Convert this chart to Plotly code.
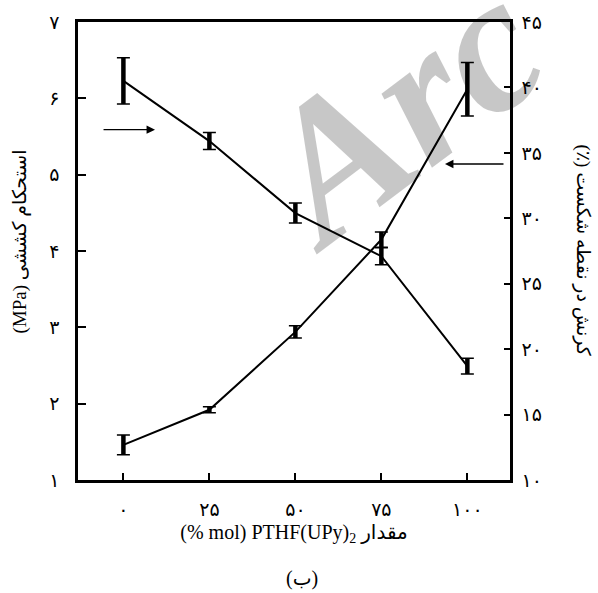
import plotly.graph_objects as go

# ---- data ----
pthf_mol = [0, 25, 50, 75, 100]
tensile_strength = [1.46, 1.92, 2.94, 4.15, 6.12]      # MPa (left axis)
tensile_err = [0.13, 0.04, 0.08, 0.10, 0.35]
strain_break = [40.5, 35.9, 30.4, 27.1, 18.7]          # % (right axis)
strain_err = [1.76, 0.65, 0.76, 0.65, 0.60]

x_tick_vals = [0, 25, 50, 75, 100]
x_tick_labels = ["۰", "۲۵", "۵۰", "۷۵", "۱۰۰"]
y_tick_vals = [1, 2, 3, 4, 5, 6, 7]
y_tick_labels = ["۱", "۲", "۳", "۴", "۵", "۶", "۷"]
y2_tick_vals = [10, 15, 20, 25, 30, 35, 40, 45]
y2_tick_labels = ["۱۰", "۱۵", "۲۰", "۲۵", "۳۰", "۳۵", "۴۰", "۴۵"]

x_title = "(% mol) PTHF(UPy)<sub>2</sub> مقدار"
y_title = "(MPa) استحکام کششی"
y2_title = "(٪) کرنش در نقطه شکست"
caption = "(ب)"

FONT = "Liberation Serif, DejaVu Sans, serif"
DIGIT_FONT = "DejaVu Sans, sans-serif"

fig = go.Figure()

def add_series(x, y, err, axis):
    # line + thick vertical error stems
    fig.add_trace(go.Scatter(
        x=x, y=y, yaxis=axis, mode="lines",
        line=dict(color="black", width=2),
        error_y=dict(type="data", array=err, visible=True,
                     color="black", thickness=4.5, width=0),
        showlegend=False, hoverinfo="skip"))
    # thin caps
    fig.add_trace(go.Scatter(
        x=x, y=y, yaxis=axis, mode="markers",
        marker=dict(color="rgba(0,0,0,0)", size=1),
        error_y=dict(type="data", array=err, visible=True,
                     color="black", thickness=1.5, width=6.5),
        showlegend=False, hoverinfo="skip"))

add_series(pthf_mol, tensile_strength, tensile_err, "y")
add_series(pthf_mol, strain_break, strain_err, "y2")

fig.update_layout(
    width=598, height=593,
    margin=dict(l=78, r=88, t=22, b=113),
    paper_bgcolor="white", plot_bgcolor="white",
    font=dict(family=FONT, color="black", size=16),
    xaxis=dict(
        range=[-13.2, 112.4], showgrid=False, zeroline=False,
        showline=True, linecolor="black", linewidth=2.5, mirror=True,
        ticks="inside", ticklen=7, tickwidth=1.5, tickcolor="black",
        tickvals=x_tick_vals, ticktext=x_tick_labels,
        tickfont=dict(family=DIGIT_FONT, size=19),
        ticklabelstandoff=10,
        title=dict(text=x_title, font=dict(family=FONT, size=20), standoff=7),
    ),
    yaxis=dict(
        range=[1, 7], showgrid=False, zeroline=False,
        showline=True, linecolor="black", linewidth=2.5,
        ticks="inside", ticklen=8, tickwidth=1.5, tickcolor="black",
        tickvals=y_tick_vals, ticktext=y_tick_labels,
        tickfont=dict(family=DIGIT_FONT, size=19),
        ticklabelstandoff=12,
    ),
    yaxis2=dict(
        range=[10, 45], overlaying="y", side="right",
        showgrid=False, zeroline=False,
        showline=True, linecolor="black", linewidth=2.5,
        ticks="inside", ticklen=6, tickwidth=1.5, tickcolor="black",
        tickvals=y2_tick_vals, ticktext=y2_tick_labels,
        tickfont=dict(family=DIGIT_FONT, size=19),
        ticklabelstandoff=5,
    ),
)

annotations = [
    # axis titles
    dict(text=y_title, xref="paper", yref="paper", x=-0.135, y=0.52,
         textangle=-90, showarrow=False, font=dict(family=FONT, size=19),
         xanchor="center", yanchor="middle"),
    dict(text=y2_title, xref="paper", yref="paper", x=1.17, y=0.50,
         textangle=90, showarrow=False, font=dict(family=FONT, size=19),
         xanchor="center", yanchor="middle"),
    # caption
    dict(text=caption, xref="paper", yref="paper", x=0.518, y=-0.215,
         showarrow=False, font=dict(family=FONT, size=20),
         xanchor="center", yanchor="middle"),
    # arrows
    dict(x=9.2, y=5.59, xref="x", yref="y", ax=-53, ay=0, text="",
         showarrow=True, arrowhead=2, arrowsize=1.3, arrowwidth=1.3,
         arrowcolor="black"),
    dict(x=93.5, y=5.14, xref="x", yref="y", ax=60, ay=0, text="",
         showarrow=True, arrowhead=2, arrowsize=1.3, arrowwidth=1.3,
         arrowcolor="black"),
    # watermark
    dict(text="<b><i>Arc</i></b>", xref="paper", yref="paper", x=0.74, y=0.805,
         textangle=-37, showarrow=False,
         font=dict(family="Liberation Serif", size=195, color="rgba(0,0,0,0.22)"),
         xanchor="center", yanchor="middle"),
]
fig.update_layout(annotations=annotations)

fig.write_html(
    "out.html",
    config={"displayModeBar": False},
    post_script="document.body.style.margin='0px'; document.body.style.overflow='hidden';",
)
